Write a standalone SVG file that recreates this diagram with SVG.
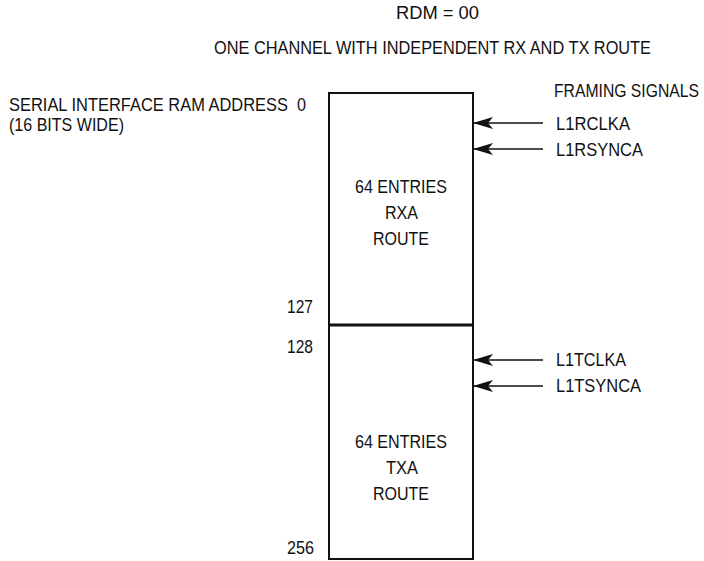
<svg xmlns="http://www.w3.org/2000/svg" width="704" height="561" viewBox="0 0 704 561">
<style>
text{font-family:"Liberation Sans",Arial,sans-serif;font-size:18.5px;fill:#111}
.box{fill:none;stroke:#111;stroke-width:2}
.div{stroke:#111;stroke-width:3}
.sig{stroke:#111;stroke-width:1.3}
</style>
<defs>
<marker id="ah" markerWidth="20" markerHeight="12" refX="19" refY="6" orient="auto" markerUnits="userSpaceOnUse">
<path d="M0,0 L20,6 L0,12 L5,6 Z" fill="#111"/>
</marker>
</defs>
<rect width="704" height="561" fill="#fff"/>
<g id="title">
<text x="396" y="19" textLength="83" lengthAdjust="spacingAndGlyphs">RDM = 00</text>
<text x="214" y="54" textLength="437" lengthAdjust="spacingAndGlyphs">ONE CHANNEL WITH INDEPENDENT RX AND TX ROUTE</text>
</g>
<g id="address-label">
<text x="9" y="111" textLength="279" lengthAdjust="spacingAndGlyphs">SERIAL INTERFACE RAM ADDRESS</text>
<text x="9" y="131" textLength="115" lengthAdjust="spacingAndGlyphs">(16 BITS WIDE)</text>
<text x="297" y="111" textLength="9" lengthAdjust="spacingAndGlyphs">0</text>
<text x="287" y="313" textLength="26" lengthAdjust="spacingAndGlyphs">127</text>
<text x="287" y="353" textLength="26" lengthAdjust="spacingAndGlyphs">128</text>
<text x="287" y="554" textLength="27" lengthAdjust="spacingAndGlyphs">256</text>
</g>
<g id="rx-block">
<rect class="box" x="329" y="93" width="144" height="232"/>
<text x="355" y="193" textLength="92" lengthAdjust="spacingAndGlyphs">64 ENTRIES</text>
<text x="385" y="219" textLength="33" lengthAdjust="spacingAndGlyphs">RXA</text>
<text x="373" y="245" textLength="56" lengthAdjust="spacingAndGlyphs">ROUTE</text>
</g>
<g id="tx-block">
<rect class="box" x="329" y="325" width="144" height="234"/>
<text x="355" y="448" textLength="92" lengthAdjust="spacingAndGlyphs">64 ENTRIES</text>
<text x="386" y="474" textLength="32" lengthAdjust="spacingAndGlyphs">TXA</text>
<text x="373" y="500" textLength="56" lengthAdjust="spacingAndGlyphs">ROUTE</text>
</g>
<line class="div" x1="329" y1="325" x2="473" y2="325"/>
<g id="signals">
<text x="554" y="97" textLength="145" lengthAdjust="spacingAndGlyphs">FRAMING SIGNALS</text>
<text x="556" y="130" textLength="74" lengthAdjust="spacingAndGlyphs">L1RCLKA</text>
<text x="556" y="156" textLength="87" lengthAdjust="spacingAndGlyphs">L1RSYNCA</text>
<text x="556" y="366" textLength="70" lengthAdjust="spacingAndGlyphs">L1TCLKA</text>
<text x="556" y="392" textLength="85" lengthAdjust="spacingAndGlyphs">L1TSYNCA</text>
</g>
<g id="connectors">
<line class="sig" x1="543" y1="123" x2="474" y2="123" marker-end="url(#ah)"/>
<line class="sig" x1="543" y1="149" x2="474" y2="149" marker-end="url(#ah)"/>
<line class="sig" x1="543" y1="360" x2="474" y2="360" marker-end="url(#ah)"/>
<line class="sig" x1="543" y1="386" x2="474" y2="386" marker-end="url(#ah)"/>
</g>
</svg>
